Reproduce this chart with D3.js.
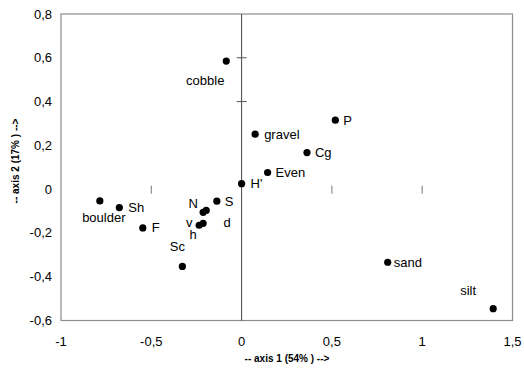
<!DOCTYPE html>
<html>
<head>
<meta charset="utf-8">
<script src="https://cdn.jsdelivr.net/npm/d3@7"></script>
<style>
	body { margin: 0; background: #fff; }
	text { font-family: Arial, "Liberation Sans", sans-serif; fill: #000; }
</style>
</head>
<body>
<script>
//ordination scores
var labels = ["cobble", "gravel", "P", "Cg", "Even", "H'", "sand", "silt",
	"boulder", "Sh", "F", "S", "N", "d", "v", "h", "Sc"];
var axis1 = [-0.085, 0.075, 0.519, 0.362, 0.144, 0.0, 0.809, 1.393,
	-0.785, -0.677, -0.547, -0.137, -0.213, -0.196, -0.235, -0.213, -0.328];
var axis2 = [0.585, 0.251, 0.315, 0.167, 0.076, 0.025, -0.334, -0.546,
	-0.054, -0.084, -0.177, -0.055, -0.106, -0.097, -0.165, -0.156, -0.353];

var xTicks = [-1, -0.5, 0, 0.5, 1, 1.5];
var yTicks = [0.8, 0.6, 0.4, 0.2, 0, -0.2, -0.4, -0.6];
var xInnerTicks = [-0.5, 0.5, 1];   //little marks along y = 0
var yInnerTicks = [0.6, 0.4];       //little marks along x = 0

var xTitle = "-- axis 1 (54% ) -->",
	yTitle = "-- axis 2 (17% ) -->";

//where each label sits next to its dot: [dx, dy, anchor]
var labelPlacement = {
	"cobble": [-21, 19, "middle"], "gravel": [9, 0, "start"], "P": [8, 0, "start"],
	"Cg": [8, 0, "start"], "Even": [8, 0, "start"], "H'": [9, 0, "start"],
	"sand": [6, 0, "start"], "silt": [-25, -18, "middle"], "boulder": [4, 16, "middle"],
	"Sh": [9, 0, "start"], "F": [9, 0, "start"], "S": [8, 0, "start"],
	"N": [-10, -9, "middle"], "d": [21, 12, "middle"], "v": [-10, -3, "middle"],
	"h": [-10, 11, "middle"], "Sc": [-5, -20, "middle"]
};

window.onload = drawChart();

function drawChart(){

	var width = 524,
		height = 368;

	var svg = d3.select("body")
		.append("svg")
		.attr("width", width)
		.attr("height", height);

	var x = d3.scaleLinear().domain([-1, 1.5]).range([61, 512.5]);
	var y = d3.scaleLinear().domain([0.8, -0.6]).range([14, 320.5]);

	var points = labels.map(function(l, i){
		return {name: l, a1: axis1[i], a2: axis2[i]};
	});

	//plot frame
	svg.append("rect")
		.attr("x", x(-1))
		.attr("y", y(0.8))
		.attr("width", x(1.5) - x(-1))
		.attr("height", y(-0.6) - y(0.8))
		.attr("fill", "none")
		.attr("stroke", "#8c8c8c")
		.attr("stroke-width", 1.2);

	//vertical line through x = 0
	svg.append("line")
		.attr("x1", x(0)).attr("x2", x(0))
		.attr("y1", y(0.8)).attr("y2", y(-0.6))
		.attr("stroke", "#444")
		.attr("stroke-width", 1);

	svg.selectAll(".xmark")
		.data(xInnerTicks)
		.enter()
		.append("line")
		.attr("class", "xmark")
		.attr("x1", function(d){ return x(d); })
		.attr("x2", function(d){ return x(d); })
		.attr("y1", y(0) - 3.5)
		.attr("y2", y(0) + 4.5)
		.attr("stroke", "#777");

	svg.selectAll(".ymark")
		.data(yInnerTicks)
		.enter()
		.append("line")
		.attr("class", "ymark")
		.attr("x1", x(0) - 5)
		.attr("x2", x(0) + 5)
		.attr("y1", function(d){ return y(d); })
		.attr("y2", function(d){ return y(d); })
		.attr("stroke", "#555");

	var fmt = function(d){ return String(d).replace(".", ","); };

	//tick labels
	svg.selectAll(".xlab")
		.data(xTicks)
		.enter()
		.append("text")
		.attr("class", "xlab")
		.attr("x", function(d){ return x(d); })
		.attr("y", 346)
		.attr("text-anchor", "middle")
		.style("font-size", "13px")
		.text(fmt);

	svg.selectAll(".ylab")
		.data(yTicks)
		.enter()
		.append("text")
		.attr("class", "ylab")
		.attr("x", 52)
		.attr("y", function(d){ return y(d); })
		.attr("dy", "0.35em")
		.attr("text-anchor", "end")
		.style("font-size", "13px")
		.text(fmt);

	//axis titles
	svg.append("text")
		.attr("x", 287)
		.attr("y", 362)
		.attr("text-anchor", "middle")
		.style("font-size", "10px")
		.style("font-weight", "bold")
		.text(xTitle);

	svg.append("text")
		.attr("transform", "translate(19,161) rotate(-90)")
		.attr("text-anchor", "middle")
		.style("font-size", "10px")
		.style("font-weight", "bold")
		.text(yTitle);

	//dots
	svg.selectAll(".dot")
		.data(points)
		.enter()
		.append("circle")
		.attr("class", "dot")
		.attr("cx", function(d){ return x(d.a1); })
		.attr("cy", function(d){ return y(d.a2); })
		.attr("r", 3.6)
		.attr("fill", "#000");

	//point labels
	svg.selectAll(".plab")
		.data(points)
		.enter()
		.append("text")
		.attr("class", "plab")
		.attr("x", function(d){ return x(d.a1) + labelPlacement[d.name][0]; })
		.attr("y", function(d){ return y(d.a2) + labelPlacement[d.name][1]; })
		.attr("dy", "0.35em")
		.attr("text-anchor", function(d){ return labelPlacement[d.name][2]; })
		.style("font-size", "13px")
		.text(function(d){ return d.name; });
};
</script>
</body>
</html>
